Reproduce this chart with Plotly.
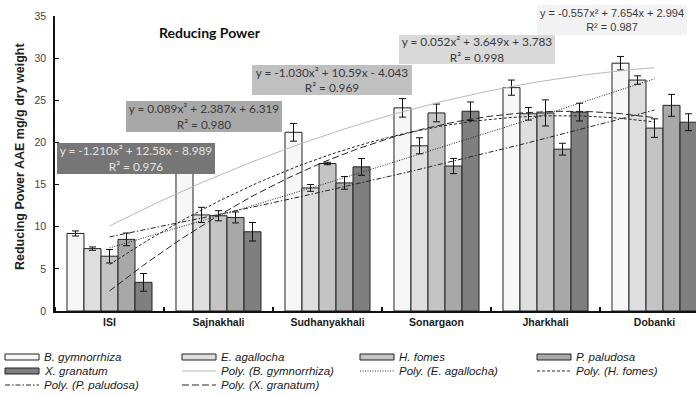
import numpy as np
import plotly.graph_objects as go

# ---- data -------------------------------------------------------------
sites = ["ISI", "Sajnakhali", "Sudhanyakhali", "Sonargaon", "Jharkhali", "Dobanki"]

species = ["B. gymnorrhiza", "E. agallocha", "H. fomes", "P. paludosa", "X. granatum"]

b_gymnorrhiza = [9.2, 17.7, 21.2, 24.1, 26.5, 29.4]
e_agallocha = [7.4, 11.4, 14.6, 19.6, 23.4, 27.4]
h_fomes = [6.5, 11.3, 17.5, 23.5, 23.5, 21.7]
p_paludosa = [8.5, 11.1, 15.2, 17.2, 19.2, 24.4]
x_granatum = [3.4, 9.4, 17.1, 23.7, 23.6, 22.4]

b_gymnorrhiza_err = [0.3, 0.9, 1.05, 1.1, 0.9, 0.8]
e_agallocha_err = [0.2, 0.9, 0.4, 0.95, 0.75, 0.5]
h_fomes_err = [0.8, 0.6, 0.15, 1.05, 1.55, 1.1]
p_paludosa_err = [0.75, 0.65, 0.75, 0.9, 0.7, 1.3]
x_granatum_err = [1.05, 1.1, 1.0, 1.1, 1.05, 1.0]

# second-order polynomial trendlines: a*x^2 + b*x + c, x = site number (1..6)
b_gymnorrhiza_fit = (-0.557, 7.654, 2.994)
e_agallocha_fit = (0.052, 3.649, 3.783)
h_fomes_fit = (-1.030, 10.59, -4.043)
p_paludosa_fit = (0.089, 2.387, 6.319)
x_granatum_fit = (-1.210, 12.58, -8.989)

fit_labels = [
    "y = -0.557x² + 7.654x + 2.994<br>R² = 0.987",
    "y = 0.052x² + 3.649x + 3.783<br>R² = 0.998",
    "y = -1.030x² + 10.59x - 4.043<br>R² = 0.969",
    "y = 0.089x² + 2.387x + 6.319<br>R² = 0.980",
    "y = -1.210x² + 12.58x - 8.989<br>R² = 0.976",
]

values = [b_gymnorrhiza, e_agallocha, h_fomes, p_paludosa, x_granatum]
errors = [b_gymnorrhiza_err, e_agallocha_err, h_fomes_err, p_paludosa_err, x_granatum_err]
fits = [b_gymnorrhiza_fit, e_agallocha_fit, h_fomes_fit, p_paludosa_fit, x_granatum_fit]

# ---- styling ------------------------------------------------------------
W, H = 696, 396
L, R, T, B = 55, 0, 16, 85
PW, PH = W - L - R, H - T - B
CAT_PX = 109.0
x_max = -0.5 + PW / CAT_PX

bar_fill = ["#f7f7f7", "#dedede", "#c4c4c4", "#a8a8a8", "#7f7f7f"]
bar_line = "#222222"
trend_color = ["#b8b8b8", "#262626", "#262626", "#262626", "#262626"]
trend_dash = ["solid", "1px,1.5px", "3px,2px", "5px,2px,1.5px,2px", "7px,3px"]
box_fill = ["#f2f2f2", "#d9d9d9", "#c0c0c0", "#a8a8a8", "#767676"]
box_text = ["#3a3a3a", "#3a3a3a", "#3a3a3a", "#3a3a3a", "#e4e4e4"]
box_font = ["Liberation Sans", "Lato", "Lato", "Lato", "Lato"]
box_size = [11, 11.8, 11.8, 11.8, 11.8]
# label box centres and sizes (px)
box_pos = [(612, 20, 150, 30), (477, 50, 156, 29), (332, 80, 160, 30),
           (204, 116, 156, 31), (136, 158.5, 158, 31)]


def px_to_paper(px, py):
    return (px - L) / PW, (H - B - py) / PH


fig = go.Figure()
xs = np.arange(len(sites))

for i, name in enumerate(species):
    fig.add_trace(go.Bar(
        x=xs, y=values[i], name=name,
        marker=dict(color=bar_fill[i], line=dict(color=bar_line, width=1)),
        error_y=dict(type="data", array=errors[i], color="#111111",
                     thickness=1, width=3.5),
        showlegend=False,
    ))

xt = np.linspace(0, len(sites) - 1, 200)
for i, name in enumerate(species):
    a, b, c = fits[i]
    n = xt + 1
    fig.add_trace(go.Scatter(
        x=xt, y=a * n ** 2 + b * n + c, mode="lines",
        line=dict(color=trend_color[i], width=1, dash=trend_dash[i]),
        name="Poly. (" + name + ")", showlegend=False, hoverinfo="skip",
    ))

annotations = []
for i in range(5):
    cx, cy, bw, bh = box_pos[i]
    ax, ay = px_to_paper(cx, cy)
    annotations.append(dict(
        x=ax, y=ay, xref="paper", yref="paper", xanchor="center", yanchor="middle",
        text=fit_labels[i],
        showarrow=False, width=bw, height=bh, bgcolor=box_fill[i],
        borderpad=0, borderwidth=0, align="center", valign="middle",
        font=dict(family=box_font[i], size=box_size[i], color=box_text[i]),
    ))

# chart title and y-axis title
tx, ty = px_to_paper(210, 32)
annotations.append(dict(x=tx, y=ty, xref="paper", yref="paper",
                        xanchor="center", yanchor="middle",
                        text="<b>Reducing Power</b>", showarrow=False,
                        font=dict(family="Lato", size=14, color="#111111")))
yx, yy = px_to_paper(20, 157)
annotations.append(dict(x=yx, y=yy, xref="paper", yref="paper",
                        xanchor="center", yanchor="middle",
                        text="<b>Reducing Power AAE mg/g dry weight</b>",
                        textangle=-90, showarrow=False,
                        font=dict(family="Liberation Sans", size=12.5, color="#222222")))

# legend (4 columns x 3 rows)
shapes = []
legend_entries = ([("bar", i) for i in range(5)] + [("line", i) for i in range(5)])
col_x = [5, 182, 360, 537]
row_y = [357, 371, 385]
for k, (kind, i) in enumerate(legend_entries):
    cx = col_x[k % 4]
    cy = row_y[k // 4]
    x0, _ = px_to_paper(cx, cy)
    x1, _ = px_to_paper(cx + 34, cy)
    if kind == "bar":
        _, y0 = px_to_paper(cx, cy - 3)
        _, y1 = px_to_paper(cx, cy + 3)
        shapes.append(dict(type="rect", xref="paper", yref="paper",
                           x0=x0, x1=x1, y0=y0, y1=y1,
                           fillcolor=bar_fill[i], line=dict(color=bar_line, width=1)))
        label = species[i]
    else:
        _, yl = px_to_paper(cx, cy)
        shapes.append(dict(type="line", xref="paper", yref="paper",
                           x0=x0, x1=x1, y0=yl, y1=yl,
                           line=dict(color=trend_color[i], width=1, dash=trend_dash[i])))
        label = "Poly. (" + species[i] + ")"
    lx, ly = px_to_paper(cx + 37, cy)
    annotations.append(dict(x=lx, y=ly, xref="paper", yref="paper",
                            xanchor="left", yanchor="middle",
                            text="<i>" + label + "</i>", showarrow=False,
                            font=dict(family="Liberation Sans", size=11.5, color="#1a1a1a")))

fig.update_layout(
    width=W, height=H,
    margin=dict(l=L, r=R, t=T, b=B, pad=0),
    paper_bgcolor="white", plot_bgcolor="white",
    barmode="group", bargap=0.22, bargroupgap=0,
    showlegend=False,
    annotations=annotations, shapes=shapes,
    xaxis=dict(
        range=[-0.5, x_max], tickmode="array", tickvals=list(xs),
        ticktext=["<b>" + s + "</b>" for s in sites],
        ticks="", showgrid=False, zeroline=False,
        showline=True, linecolor="#111111", linewidth=2,
        tickfont=dict(family="Liberation Sans", size=10.5, color="#1a1a1a"),
        minor=dict(tickmode="linear", tick0=0.5, dtick=1, ticks="inside",
                   ticklen=4, tickcolor="#111111", tickwidth=1.5, showgrid=False),
    ),
    yaxis=dict(
        range=[0, 35], tickmode="linear", tick0=0, dtick=5,
        ticks="inside", ticklen=4, tickcolor="#111111", tickwidth=1,
        showgrid=False, zeroline=False, ticklabelstandoff=5,
        showline=True, linecolor="#111111", linewidth=1.5,
        tickfont=dict(family="Liberation Sans", size=10.5, color="#444444"),
    ),
)

fig.write_html("out.html")
